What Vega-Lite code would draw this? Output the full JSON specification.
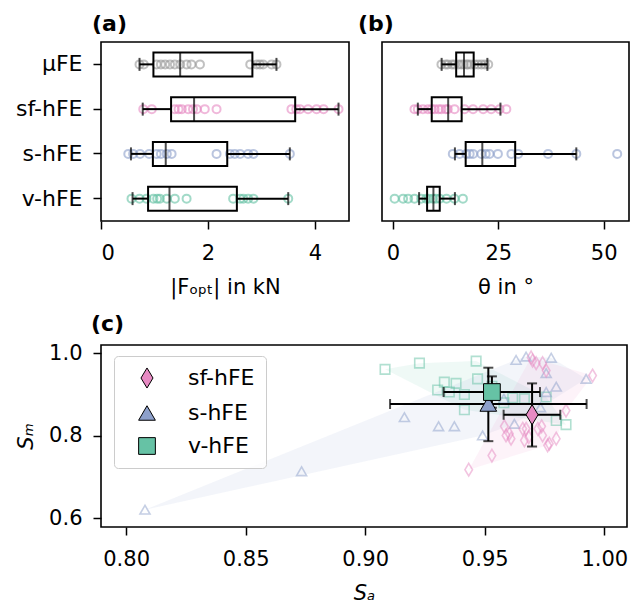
{
"$schema": "https://vega.github.io/schema/vega-lite/v6.json",
"background": "white",
"padding": {"left": 14, "top": 12, "right": 5, "bottom": 2},
"config": {
  "view": {"stroke": "black", "strokeWidth": 1.6},
  "font": "DejaVu Sans",
  "axis": {"domain": false, "grid": false, "tickColor": "black", "tickWidth": 1.5, "tickSize": 8, "labelFont": "DejaVu Sans", "labelFontSize": 21, "labelColor": "black", "titleFont": "DejaVu Sans", "titleFontSize": 21, "titleFontWeight": "normal", "titleColor": "black"},
  "axisX": {"labelPadding": 13, "titlePadding": 13},
  "axisY": {"labelPadding": 11, "titlePadding": 12},
  "title": {"anchor": "start", "frame": "group", "fontSize": 22, "fontWeight": "bold", "font": "DejaVu Sans", "color": "black", "baseline": "alphabetic", "offset": 6}
},
"datasets": {
  "ptsA": [
    {"g":"μFE","v":0.72},{"g":"μFE","v":0.80},{"g":"μFE","v":1.04},{"g":"μFE","v":1.12},{"g":"μFE","v":1.20},{"g":"μFE","v":1.29},{"g":"μFE","v":1.38},{"g":"μFE","v":1.48},{"g":"μFE","v":1.60},{"g":"μFE","v":1.69},{"g":"μFE","v":1.85},{"g":"μFE","v":2.79},{"g":"μFE","v":2.91},{"g":"μFE","v":2.97},{"g":"μFE","v":3.03},{"g":"μFE","v":3.19},{"g":"μFE","v":3.28},
    {"g":"sf-hFE","v":0.79},{"g":"sf-hFE","v":0.95},{"g":"sf-hFE","v":1.38},{"g":"sf-hFE","v":1.45},{"g":"sf-hFE","v":1.51},{"g":"sf-hFE","v":1.63},{"g":"sf-hFE","v":1.72},{"g":"sf-hFE","v":1.79},{"g":"sf-hFE","v":1.94},{"g":"sf-hFE","v":2.16},{"g":"sf-hFE","v":3.56},{"g":"sf-hFE","v":3.65},{"g":"sf-hFE","v":3.72},{"g":"sf-hFE","v":3.87},{"g":"sf-hFE","v":4.03},{"g":"sf-hFE","v":4.16},{"g":"sf-hFE","v":4.44},
    {"g":"s-hFE","v":0.51},{"g":"s-hFE","v":0.60},{"g":"s-hFE","v":0.73},{"g":"s-hFE","v":0.90},{"g":"s-hFE","v":1.04},{"g":"s-hFE","v":1.12},{"g":"s-hFE","v":1.23},{"g":"s-hFE","v":1.32},{"g":"s-hFE","v":2.16},{"g":"s-hFE","v":2.41},{"g":"s-hFE","v":2.50},{"g":"s-hFE","v":2.60},{"g":"s-hFE","v":2.75},{"g":"s-hFE","v":2.85},{"g":"s-hFE","v":3.53},
    {"g":"v-hFE","v":0.57},{"g":"v-hFE","v":0.72},{"g":"v-hFE","v":0.85},{"g":"v-hFE","v":0.98},{"g":"v-hFE","v":1.05},{"g":"v-hFE","v":1.10},{"g":"v-hFE","v":1.23},{"g":"v-hFE","v":1.38},{"g":"v-hFE","v":1.60},{"g":"v-hFE","v":2.47},{"g":"v-hFE","v":2.60},{"g":"v-hFE","v":2.66},{"g":"v-hFE","v":2.75},{"g":"v-hFE","v":2.85},{"g":"v-hFE","v":3.50}
  ],
  "ptsB": [
    {"g":"μFE","v":11.5},{"g":"μFE","v":12.5},{"g":"μFE","v":13.0},{"g":"μFE","v":14.0},{"g":"μFE","v":14.6},{"g":"μFE","v":15.5},{"g":"μFE","v":16.2},{"g":"μFE","v":16.8},{"g":"μFE","v":17.5},{"g":"μFE","v":17.8},{"g":"μFE","v":18.5},{"g":"μFE","v":19.4},{"g":"μFE","v":20.2},{"g":"μFE","v":21.0},{"g":"μFE","v":21.8},{"g":"μFE","v":22.6},
    {"g":"sf-hFE","v":5.1},{"g":"sf-hFE","v":5.9},{"g":"sf-hFE","v":7.1},{"g":"sf-hFE","v":8.3},{"g":"sf-hFE","v":9.2},{"g":"sf-hFE","v":9.9},{"g":"sf-hFE","v":10.8},{"g":"sf-hFE","v":11.5},{"g":"sf-hFE","v":12.5},{"g":"sf-hFE","v":13.0},{"g":"sf-hFE","v":14.6},{"g":"sf-hFE","v":17.0},{"g":"sf-hFE","v":19.0},{"g":"sf-hFE","v":21.4},{"g":"sf-hFE","v":23.3},{"g":"sf-hFE","v":25.3},{"g":"sf-hFE","v":26.9},
    {"g":"s-hFE","v":14.2},{"g":"s-hFE","v":15.8},{"g":"s-hFE","v":17.4},{"g":"s-hFE","v":18.2},{"g":"s-hFE","v":19.0},{"g":"s-hFE","v":21.0},{"g":"s-hFE","v":22.0},{"g":"s-hFE","v":22.9},{"g":"s-hFE","v":24.9},{"g":"s-hFE","v":28.1},{"g":"s-hFE","v":29.7},{"g":"s-hFE","v":36.8},{"g":"s-hFE","v":43.5},{"g":"s-hFE","v":53.2},
    {"g":"v-hFE","v":0.4},{"g":"v-hFE","v":2.4},{"g":"v-hFE","v":3.6},{"g":"v-hFE","v":5.1},{"g":"v-hFE","v":6.7},{"g":"v-hFE","v":7.9},{"g":"v-hFE","v":8.5},{"g":"v-hFE","v":9.5},{"g":"v-hFE","v":10.2},{"g":"v-hFE","v":11.1},{"g":"v-hFE","v":12.7},{"g":"v-hFE","v":14.6},{"g":"v-hFE","v":16.6}
  ],
  "boxA": [
    {"g":"μFE","lw":0.72,"q1":0.98,"med":1.48,"q3":2.83,"uw":3.28},
    {"g":"sf-hFE","lw":0.78,"q1":1.31,"med":1.74,"q3":3.63,"uw":4.44},
    {"g":"s-hFE","lw":0.56,"q1":0.97,"med":1.21,"q3":2.36,"uw":3.53},
    {"g":"v-hFE","lw":0.59,"q1":0.88,"med":1.28,"q3":2.54,"uw":3.50}
  ],
  "boxB": [
    {"g":"μFE","lw":11.55,"q1":15.0,"med":16.85,"q3":19.15,"uw":22.4},
    {"g":"sf-hFE","lw":5.9,"q1":9.2,"med":13.1,"q3":16.3,"uw":25.5},
    {"g":"s-hFE","lw":14.7,"q1":17.25,"med":21.2,"q3":29.0,"uw":43.5},
    {"g":"v-hFE","lw":6.2,"q1":8.1,"med":9.6,"q3":11.1,"uw":14.7}
  ],
  "sc": [
    {"g":"v-hFE","sa":0.9083,"sm":0.961},{"g":"v-hFE","sa":0.9227,"sm":0.976},{"g":"v-hFE","sa":0.9464,"sm":0.981},{"g":"v-hFE","sa":0.9331,"sm":0.930},{"g":"v-hFE","sa":0.938,"sm":0.927},{"g":"v-hFE","sa":0.9303,"sm":0.911},{"g":"v-hFE","sa":0.9352,"sm":0.906},{"g":"v-hFE","sa":0.9415,"sm":0.900},{"g":"v-hFE","sa":0.947,"sm":0.938},{"g":"v-hFE","sa":0.9415,"sm":0.863},{"g":"v-hFE","sa":0.9617,"sm":0.892},{"g":"v-hFE","sa":0.9666,"sm":0.890},{"g":"v-hFE","sa":0.9757,"sm":0.894},{"g":"v-hFE","sa":0.9799,"sm":0.837},{"g":"v-hFE","sa":0.984,"sm":0.827},{"g":"v-hFE","sa":0.953,"sm":0.92},{"g":"v-hFE","sa":0.958,"sm":0.88},
    {"g":"s-hFE","sa":0.8079,"sm":0.621},{"g":"s-hFE","sa":0.8734,"sm":0.714},{"g":"s-hFE","sa":0.9164,"sm":0.845},{"g":"s-hFE","sa":0.9307,"sm":0.823},{"g":"s-hFE","sa":0.9373,"sm":0.823},{"g":"s-hFE","sa":0.9491,"sm":0.801},{"g":"s-hFE","sa":0.9624,"sm":0.829},{"g":"s-hFE","sa":0.9631,"sm":0.984},{"g":"s-hFE","sa":0.9673,"sm":0.992},{"g":"s-hFE","sa":0.9778,"sm":0.989},{"g":"s-hFE","sa":0.9757,"sm":0.952},{"g":"s-hFE","sa":0.9799,"sm":0.919},{"g":"s-hFE","sa":0.9757,"sm":0.906},{"g":"s-hFE","sa":0.9733,"sm":0.869},{"g":"s-hFE","sa":0.9924,"sm":0.938},{"g":"s-hFE","sa":0.958,"sm":0.89},
    {"g":"sf-hFE","sa":0.9433,"sm":0.718},{"g":"sf-hFE","sa":0.953,"sm":0.752},{"g":"sf-hFE","sa":0.9582,"sm":0.823},{"g":"sf-hFE","sa":0.9589,"sm":0.801},{"g":"sf-hFE","sa":0.961,"sm":0.793},{"g":"sf-hFE","sa":0.9603,"sm":0.805},{"g":"sf-hFE","sa":0.9659,"sm":0.817},{"g":"sf-hFE","sa":0.9673,"sm":0.817},{"g":"sf-hFE","sa":0.9666,"sm":0.789},{"g":"sf-hFE","sa":0.9684,"sm":0.797},{"g":"sf-hFE","sa":0.9722,"sm":0.817},{"g":"sf-hFE","sa":0.9738,"sm":0.823},{"g":"sf-hFE","sa":0.9742,"sm":0.801},{"g":"sf-hFE","sa":0.9763,"sm":0.777},{"g":"sf-hFE","sa":0.977,"sm":0.781},{"g":"sf-hFE","sa":0.9799,"sm":0.793},{"g":"sf-hFE","sa":0.984,"sm":0.861},{"g":"sf-hFE","sa":0.9951,"sm":0.946},{"g":"sf-hFE","sa":0.9694,"sm":0.990},{"g":"sf-hFE","sa":0.9715,"sm":0.976},{"g":"sf-hFE","sa":0.9742,"sm":0.976},{"g":"sf-hFE","sa":0.9757,"sm":0.958},{"g":"sf-hFE","sa":0.970,"sm":0.982}
  ],
  "hull": [
    {"g":"sf-hFE","i":1,"sa":0.9433,"sm":0.718},{"g":"sf-hFE","i":2,"sa":0.9763,"sm":0.777},{"g":"sf-hFE","i":3,"sa":0.9799,"sm":0.793},{"g":"sf-hFE","i":4,"sa":0.984,"sm":0.861},{"g":"sf-hFE","i":5,"sa":0.9951,"sm":0.946},{"g":"sf-hFE","i":6,"sa":0.9694,"sm":0.990},
    {"g":"s-hFE","i":1,"sa":0.8079,"sm":0.621},{"g":"s-hFE","i":2,"sa":0.9491,"sm":0.801},{"g":"s-hFE","i":3,"sa":0.9624,"sm":0.829},{"g":"s-hFE","i":4,"sa":0.9924,"sm":0.938},{"g":"s-hFE","i":5,"sa":0.9778,"sm":0.989},{"g":"s-hFE","i":6,"sa":0.9673,"sm":0.992},{"g":"s-hFE","i":7,"sa":0.9631,"sm":0.984},
    {"g":"v-hFE","i":1,"sa":0.9083,"sm":0.961},{"g":"v-hFE","i":2,"sa":0.9415,"sm":0.863},{"g":"v-hFE","i":3,"sa":0.984,"sm":0.827},{"g":"v-hFE","i":4,"sa":0.9757,"sm":0.894},{"g":"v-hFE","i":5,"sa":0.9464,"sm":0.981},{"g":"v-hFE","i":6,"sa":0.9227,"sm":0.976}
  ],
  "mean": [
    {"g":"sf-hFE","sa":0.9698,"sm":0.851,"salo":0.9579,"sahi":0.9816,"smlo":0.774,"smhi":0.927},
    {"g":"s-hFE","sa":0.9515,"sm":0.877,"salo":0.9104,"sahi":0.9926,"smlo":0.787,"smhi":0.965},
    {"g":"v-hFE","sa":0.9530,"sm":0.906,"salo":0.9328,"sahi":0.9731,"smlo":0.868,"smhi":0.944}
  ]
},
"bounds": "flush",
"spacing": 303,
"resolve": {"scale": {"color": "independent", "shape": "independent"}, "legend": {"color": "independent", "shape": "independent"}},
"vconcat": [
 {
  "bounds": "flush",
  "spacing": 33,
  "hconcat": [
   {
    "width": 248, "height": 179,
    "title": {"text": "(a)", "dx": -9},
    "encoding": {
      "y": {"field": "g", "type": "nominal", "scale": {"domain": ["μFE","sf-hFE","s-hFE","v-hFE"], "paddingInner": 0, "paddingOuter": 0}, "axis": {"title": null, "labelFontSize": 22}}
    },
    "layer": [
      {"data": {"name": "ptsA"}, "mark": {"type": "point", "shape": "circle", "filled": false, "size": 64, "strokeWidth": 2, "opacity": 0.6},
       "encoding": {"x": {"field": "v", "type": "quantitative", "title": "|Fₒₚₜ| in kN", "scale": {"domain": [0, 4.636], "nice": false, "zero": false}, "axis": {"values": [0, 2, 4], "format": ".0f"}},
                    "color": {"field": "g", "type": "nominal", "scale": {"domain": ["μFE","sf-hFE","s-hFE","v-hFE"], "range": ["#999999","#e78ac3","#8da0cb","#66c2a5"]}, "legend": null}}},
      {"data": {"name": "boxA"}, "mark": {"type": "rule", "color": "black", "strokeWidth": 2},
       "encoding": {"x": {"field": "lw", "type": "quantitative", "title": "|Fₒₚₜ| in kN"}, "x2": {"field": "q1"}}},
      {"data": {"name": "boxA"}, "mark": {"type": "rule", "color": "black", "strokeWidth": 2},
       "encoding": {"x": {"field": "q3", "type": "quantitative", "title": "|Fₒₚₜ| in kN"}, "x2": {"field": "uw"}}},
      {"data": {"name": "boxA"}, "mark": {"type": "bar", "size": 24, "fill": "transparent", "stroke": "black", "strokeWidth": 2},
       "encoding": {"x": {"field": "q1", "type": "quantitative", "title": "|Fₒₚₜ| in kN"}, "x2": {"field": "q3"}}},
      {"data": {"name": "boxA"}, "mark": {"type": "tick", "orient": "vertical", "color": "black", "size": 13, "thickness": 2},
       "encoding": {"x": {"field": "lw", "type": "quantitative", "title": "|Fₒₚₜ| in kN"}}},
      {"data": {"name": "boxA"}, "mark": {"type": "tick", "orient": "vertical", "color": "black", "size": 13, "thickness": 2},
       "encoding": {"x": {"field": "uw", "type": "quantitative", "title": "|Fₒₚₜ| in kN"}}},
      {"data": {"name": "boxA"}, "mark": {"type": "tick", "orient": "vertical", "color": "black", "size": 24, "thickness": 2},
       "encoding": {"x": {"field": "med", "type": "quantitative", "title": "|Fₒₚₜ| in kN"}}}
    ]
   },
   {
    "width": 247, "height": 179,
    "title": {"text": "(b)", "dx": -24},
    "encoding": {
      "y": {"field": "g", "type": "nominal", "scale": {"domain": ["μFE","sf-hFE","s-hFE","v-hFE"], "paddingInner": 0, "paddingOuter": 0}, "axis": null}
    },
    "layer": [
      {"data": {"name": "ptsB"}, "mark": {"type": "point", "shape": "circle", "filled": false, "size": 64, "strokeWidth": 2, "opacity": 0.6},
       "encoding": {"x": {"field": "v", "type": "quantitative", "title": "θ in °", "scale": {"domain": [-2.6, 56], "nice": false, "zero": false}, "axis": {"values": [0, 25, 50], "format": ".0f"}},
                    "color": {"field": "g", "type": "nominal", "scale": {"domain": ["μFE","sf-hFE","s-hFE","v-hFE"], "range": ["#999999","#e78ac3","#8da0cb","#66c2a5"]}, "legend": null}}},
      {"data": {"name": "boxB"}, "mark": {"type": "rule", "color": "black", "strokeWidth": 2},
       "encoding": {"x": {"field": "lw", "type": "quantitative", "title": "θ in °"}, "x2": {"field": "q1"}}},
      {"data": {"name": "boxB"}, "mark": {"type": "rule", "color": "black", "strokeWidth": 2},
       "encoding": {"x": {"field": "q3", "type": "quantitative", "title": "θ in °"}, "x2": {"field": "uw"}}},
      {"data": {"name": "boxB"}, "mark": {"type": "bar", "size": 24, "fill": "transparent", "stroke": "black", "strokeWidth": 2},
       "encoding": {"x": {"field": "q1", "type": "quantitative", "title": "θ in °"}, "x2": {"field": "q3"}}},
      {"data": {"name": "boxB"}, "mark": {"type": "tick", "orient": "vertical", "color": "black", "size": 13, "thickness": 2},
       "encoding": {"x": {"field": "lw", "type": "quantitative", "title": "θ in °"}}},
      {"data": {"name": "boxB"}, "mark": {"type": "tick", "orient": "vertical", "color": "black", "size": 13, "thickness": 2},
       "encoding": {"x": {"field": "uw", "type": "quantitative", "title": "θ in °"}}},
      {"data": {"name": "boxB"}, "mark": {"type": "tick", "orient": "vertical", "color": "black", "size": 24, "thickness": 2},
       "encoding": {"x": {"field": "med", "type": "quantitative", "title": "θ in °"}}}
    ]
   }
  ]
 },
 {
  "width": 526, "height": 182,
  "title": {"text": "(c)", "dx": -10},
  "layer": [
    {"data": {"name": "hull"}, "transform": [{"filter": "datum.g === 'v-hFE'"}], "mark": {"type": "line", "interpolate": "linear-closed", "fill": "#66c2a5", "fillOpacity": 0.1, "strokeOpacity": 0},
     "encoding": {"x": {"field": "sa", "type": "quantitative", "title": "Sₐ", "scale": {"domain": [0.7895, 1.0095], "nice": false, "zero": false}, "axis": {"values": [0.8, 0.85, 0.9, 0.95, 1.0], "format": ".2f", "titleFontStyle": "italic"}},
                  "y": {"field": "sm", "type": "quantitative", "title": "Sₘ", "scale": {"domain": [0.579, 1.020], "nice": false, "zero": false}, "axis": {"values": [0.6, 0.8, 1.0], "format": ".1f", "titleFontStyle": "italic"}},
                  "order": {"field": "i", "type": "quantitative"}}},
    {"data": {"name": "hull"}, "transform": [{"filter": "datum.g === 's-hFE'"}], "mark": {"type": "line", "interpolate": "linear-closed", "fill": "#8da0cb", "fillOpacity": 0.1, "strokeOpacity": 0},
     "encoding": {"x": {"field": "sa", "type": "quantitative", "title": "Sₐ"}, "y": {"field": "sm", "type": "quantitative", "title": "Sₘ"}, "order": {"field": "i", "type": "quantitative"}}},
    {"data": {"name": "hull"}, "transform": [{"filter": "datum.g === 'sf-hFE'"}], "mark": {"type": "line", "interpolate": "linear-closed", "fill": "#e78ac3", "fillOpacity": 0.1, "strokeOpacity": 0},
     "encoding": {"x": {"field": "sa", "type": "quantitative", "title": "Sₐ"}, "y": {"field": "sm", "type": "quantitative", "title": "Sₘ"}, "order": {"field": "i", "type": "quantitative"}}},
    {"data": {"name": "sc"}, "transform": [{"filter": "datum.g === 'v-hFE'"}], "mark": {"type": "point", "shape": "square", "filled": false, "size": 90, "strokeWidth": 1.6, "color": "#66c2a5", "opacity": 0.5},
     "encoding": {"x": {"field": "sa", "type": "quantitative", "title": "Sₐ"}, "y": {"field": "sm", "type": "quantitative", "title": "Sₘ"}}},
    {"data": {"name": "sc"}, "transform": [{"filter": "datum.g === 's-hFE'"}], "mark": {"type": "point", "shape": "triangle-up", "filled": false, "size": 100, "strokeWidth": 1.6, "color": "#8da0cb", "opacity": 0.5},
     "encoding": {"x": {"field": "sa", "type": "quantitative", "title": "Sₐ"}, "y": {"field": "sm", "type": "quantitative", "title": "Sₘ"}}},
    {"data": {"name": "sc"}, "transform": [{"filter": "datum.g === 'sf-hFE'"}], "mark": {"type": "point", "shape": "M0,-1.2L0.72,0L0,1.2L-0.72,0Z", "filled": false, "size": 110, "strokeWidth": 1.6, "color": "#e78ac3", "opacity": 0.5},
     "encoding": {"x": {"field": "sa", "type": "quantitative", "title": "Sₐ"}, "y": {"field": "sm", "type": "quantitative", "title": "Sₘ"}}},
    {"data": {"name": "mean"}, "mark": {"type": "rule", "color": "black", "strokeWidth": 2},
     "encoding": {"x": {"field": "salo", "type": "quantitative", "title": "Sₐ"}, "x2": {"field": "sahi"}, "y": {"field": "sm", "type": "quantitative", "title": "Sₘ"}}},
    {"data": {"name": "mean"}, "mark": {"type": "rule", "color": "black", "strokeWidth": 2},
     "encoding": {"x": {"field": "sa", "type": "quantitative", "title": "Sₐ"}, "y": {"field": "smlo", "type": "quantitative", "title": "Sₘ"}, "y2": {"field": "smhi"}}},
    {"data": {"name": "mean"}, "mark": {"type": "tick", "orient": "vertical", "color": "black", "size": 10, "thickness": 2},
     "encoding": {"x": {"field": "salo", "type": "quantitative", "title": "Sₐ"}, "y": {"field": "sm", "type": "quantitative", "title": "Sₘ"}}},
    {"data": {"name": "mean"}, "mark": {"type": "tick", "orient": "vertical", "color": "black", "size": 10, "thickness": 2},
     "encoding": {"x": {"field": "sahi", "type": "quantitative", "title": "Sₐ"}, "y": {"field": "sm", "type": "quantitative", "title": "Sₘ"}}},
    {"data": {"name": "mean"}, "mark": {"type": "tick", "orient": "horizontal", "color": "black", "size": 10, "thickness": 2},
     "encoding": {"x": {"field": "sa", "type": "quantitative", "title": "Sₐ"}, "y": {"field": "smlo", "type": "quantitative", "title": "Sₘ"}}},
    {"data": {"name": "mean"}, "mark": {"type": "tick", "orient": "horizontal", "color": "black", "size": 10, "thickness": 2},
     "encoding": {"x": {"field": "sa", "type": "quantitative", "title": "Sₐ"}, "y": {"field": "smhi", "type": "quantitative", "title": "Sₘ"}}},
    {"data": {"name": "mean"}, "mark": {"type": "point", "filled": true, "size": 280, "stroke": "black", "strokeWidth": 1, "opacity": 1},
     "encoding": {"x": {"field": "sa", "type": "quantitative", "title": "Sₐ"}, "y": {"field": "sm", "type": "quantitative", "title": "Sₘ"},
                  "color": {"field": "g", "type": "nominal", "scale": {"domain": ["sf-hFE","s-hFE","v-hFE"], "range": ["#e78ac3","#8da0cb","#66c2a5"]},
                            "legend": {"title": null, "orient": "none", "legendX": 13, "legendY": 11, "fillColor": "rgba(255,255,255,0.8)", "strokeColor": "#cccccc", "cornerRadius": 4, "padding": 11, "labelFontSize": 22, "labelFont": "DejaVu Sans", "labelColor": "black", "symbolSize": 280, "symbolStrokeColor": "black", "symbolStrokeWidth": 1, "rowPadding": 11, "labelOffset": 30, "symbolOffset": 11,
                                       "encode": {"symbols": {"update": {"fill": {"signal": "datum.value === 'sf-hFE' ? '#e78ac3' : datum.value === 's-hFE' ? '#8da0cb' : '#66c2a5'"}, "stroke": {"value": "black"}, "strokeWidth": {"value": 1}, "opacity": {"value": 1}, "fillOpacity": {"value": 1}}}}}},
                  "shape": {"field": "g", "type": "nominal", "scale": {"domain": ["sf-hFE","s-hFE","v-hFE"], "range": ["M0,-1.2L0.72,0L0,1.2L-0.72,0Z","triangle-up","square"]},
                            "legend": {"title": null, "orient": "none", "legendX": 13, "legendY": 11, "fillColor": "rgba(255,255,255,0.8)", "strokeColor": "#cccccc", "cornerRadius": 4, "padding": 11, "labelFontSize": 22, "labelFont": "DejaVu Sans", "labelColor": "black", "symbolSize": 280, "symbolStrokeColor": "black", "symbolStrokeWidth": 1, "rowPadding": 11, "labelOffset": 30, "symbolOffset": 11,
                                       "encode": {"symbols": {"update": {"fill": {"signal": "datum.value === 'sf-hFE' ? '#e78ac3' : datum.value === 's-hFE' ? '#8da0cb' : '#66c2a5'"}, "stroke": {"value": "black"}, "strokeWidth": {"value": 1}, "opacity": {"value": 1}, "fillOpacity": {"value": 1}}}}}}}}
  ]
 }
]
}
